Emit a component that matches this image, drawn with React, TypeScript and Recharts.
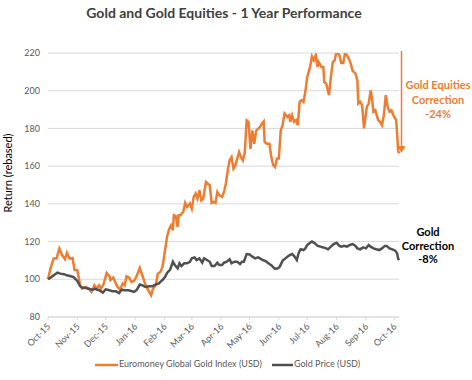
import { LineChart, Line, XAxis, YAxis, CartesianGrid } from "recharts";

// days counted from 1 Oct 2015
const equityDays = [
  0, 3, 6, 9, 12, 15, 18, 20, 23, 26, 28, 31, 34, 36, 40, 43, 46, 49, 51, 54, 56, 59, 62, 65, 66, 69, 71, 73, 76, 79,
  81, 83, 86, 88, 91, 94, 97, 100, 102, 104, 107, 109, 111, 114, 116, 119, 121, 123, 126, 128, 130, 132, 133, 135,
  137, 138, 140, 143, 145, 147, 150, 152, 154, 156, 158, 160, 162, 164, 167, 169, 171, 173, 175, 177, 179, 181, 184,
  186, 188, 190, 192, 194, 196, 198, 200, 202, 204, 206, 208, 210, 212, 214, 216, 218, 220, 222, 224, 226, 228, 229,
  231, 234, 236, 238, 240, 242, 244, 246, 248, 250, 253, 255, 256, 258, 260, 262, 264, 266, 268, 270, 272, 274, 277,
  279, 281, 283, 285, 286, 289, 291, 292, 294, 297, 299, 301, 303, 305, 308, 310, 312, 314, 316, 318, 320, 322, 325,
  327, 328, 330, 332, 334, 337, 339, 341, 342, 344, 346, 349, 351, 353, 355, 357, 359, 361, 363, 365, 368, 369, 370, 371,
];
const equityValues = [
  100, 106.5, 111, 111, 116.3, 112.7, 110.6, 114, 111, 111.3, 105, 104.8, 96.8, 95, 96, 95, 93.3, 96.8, 95, 96.8, 95,
  97.7, 103.4, 101.6, 99.5, 100.9, 98.6, 96.3, 94.5, 97.7, 96.8, 101.6, 100.9, 98.6, 99.1, 102, 106, 101.6, 98.6, 96,
  93.3, 91.5, 95, 96.8, 103, 104, 106.5, 113, 123, 126.5, 128.5, 126, 134, 133.5, 127.8, 134, 134, 135.8, 140.5, 138.4,
  140.2, 137.5, 143.7, 145.5, 142.8, 147.2, 141.9, 142.8, 151.6, 150.7, 149.9, 140.5, 141, 140.5, 146.3, 144.6, 143.7,
  146.3, 150.7, 157.8, 163.1, 164.8, 158.7, 160.4, 164, 167.5, 164.8, 163.1, 167.5, 184.2, 183.3, 169.2, 178.9, 171.9,
  178.9, 179.8, 180.7, 182.5, 183.7, 172.8, 171.9, 171.9, 165, 160.5, 159.5, 164, 164, 179, 181.7, 187.9, 186.1, 187,
  183.5, 187, 183.5, 184.4, 181.7, 194.1, 195, 194.1, 199.4, 207.3, 212.6, 218.2, 216.1, 218.8, 212.6, 215.2, 212.6,
  212.6, 204.6, 203.8, 197.6, 207.3, 215.2, 216.1, 221, 218.8, 214.7, 214.7, 220, 218.8, 217, 214.4, 210.5, 209.1,
  205.5, 193.2, 194.1, 192.3, 180, 191.4, 193.2, 200.2, 197.6, 188.8, 189.6, 184.4, 183.5, 181.7, 187, 197.6, 191.4,
  188.8, 189.6, 187, 184.4, 177.3, 168.5, 166.7,
];

const goldDays = [
  0, 3, 6, 10, 13, 17, 20, 24, 27, 31, 34, 36, 40, 43, 47, 50, 54, 58, 61, 65, 68, 72, 75, 78, 81, 85, 88, 91, 94, 97,
  100, 103, 107, 110, 114, 117, 119, 121, 124, 126, 129, 132, 134, 137, 139, 141, 144, 147, 150, 152, 155, 157, 160,
  163, 165, 168, 171, 173, 176, 179, 181, 184, 186, 189, 192, 194, 197, 200, 203, 205, 207, 210, 213, 216, 219, 222,
  224, 227, 230, 233, 236, 238, 240, 243, 245, 248, 251, 253, 256, 258, 260, 263, 265, 267, 270, 272, 274, 277, 279,
  282, 285, 288, 291, 294, 296, 299, 302, 305, 308, 310, 313, 316, 319, 322, 325, 327, 330, 333, 336, 339, 341, 344,
  347, 350, 353, 356, 358, 361, 364, 367, 369, 370, 371,
];
const goldValues = [
  100, 100.9, 102.1, 103.5, 103, 102.7, 102.1, 101.6, 101.2, 99.1, 96.3, 95.6, 95.4, 95, 94.5, 94.9, 94.2, 92.9, 94.7,
  94.2, 93.6, 93.6, 92.7, 94.5, 94.2, 94.2, 93.8, 93.3, 94.5, 97.2, 96.8, 95.9, 96.3, 96.3, 97.3, 97.7, 98.8, 99.6,
  101.4, 103.5, 105, 109.3, 107.6, 105.8, 108.5, 107, 108.5, 108.5, 109.3, 111.1, 111.6, 110.2, 111.1, 108.8, 111.1,
  110.2, 109.3, 107, 107, 108.8, 107.6, 107.6, 108.8, 109.3, 110.6, 108.5, 109.3, 109.3, 108.1, 109.3, 109.3, 113.4,
  113.2, 112, 111.1, 111.6, 111.1, 110.2, 109.7, 108.5, 107.5, 106.5, 105.5, 105.8, 106.7, 109.9, 111.1, 112, 112.9,
  113.4, 112.4, 110.2, 114.1, 115.9, 115.5, 116.4, 118.2, 119.4, 120, 119.1, 117.7, 117.3, 116.9, 116.4, 115.9, 117.3,
  118.7, 119.4, 117.7, 117.3, 117.7, 117.3, 118.2, 118.7, 117.7, 116.4, 115.9, 116.9, 116.4, 118.2, 117.3, 116.4,
  115.9, 115.5, 116.4, 117.7, 117.7, 116.4, 115.9, 115.2, 113.8, 111.1, 110.2,
];

const monthTicks = [0, 31, 61, 92, 123, 152, 183, 213, 244, 274, 305, 336, 366];
const monthLabels = [
  "Oct-15", "Nov-15", "Dec-15", "Jan-16", "Feb-16", "Mar-16", "Apr-16",
  "May-16", "Jun-16", "Jul-16", "Aug-16", "Sep-16", "Oct-16",
];
const yTicks = [80, 100, 120, 140, 160, 180, 200, 220];

const equityData = equityDays.map((d, i) => ({ day: d, value: equityValues[i] }));
const goldData = goldDays.map((d, i) => ({ day: d, value: goldValues[i] }));

const ORANGE = "#ED7D31";
const GREY = "#505050";
const FONT = "Lato, 'Open Sans', sans-serif";

function MonthTick(props: any) {
  const { x, y, payload } = props;
  const label = monthLabels[monthTicks.indexOf(payload.value)];
  const tx = x + 3;
  const ty = y + 5;
  return (
    <text
      x={tx}
      y={ty}
      transform={`rotate(-45 ${tx} ${ty})`}
      textAnchor="end"
      fontSize={9}
      fill="#595959"
      fontFamily={FONT}
    >
      {label}
    </text>
  );
}

export default function App() {
  return (
    <div style={{ position: "absolute", left: 0, top: 0, width: 472, height: 380, background: "#fff", fontFamily: FONT }}>
      <div
        style={{
          position: "absolute", left: 0, width: 448, top: 4, textAlign: "center",
          fontSize: 14, fontWeight: 700, color: "#404040",
        }}
      >
        Gold and Gold Equities - 1 Year Performance
      </div>

      <LineChart width={472} height={380} margin={{ top: 53, right: 73, bottom: 0, left: 0 }}>
        <CartesianGrid vertical={false} stroke="#d9d9d9" />
        <XAxis
          dataKey="day"
          type="number"
          domain={[0, 371]}
          ticks={monthTicks}
          tick={<MonthTick />}
          height={63}
          tickSize={3}
          stroke="#d9d9d9"
          allowDuplicatedCategory={false}
          interval={0}
        />
        <YAxis
          type="number"
          domain={[80, 220]}
          ticks={yTicks}
          allowDataOverflow
          width={48}
          axisLine={false}
          tickLine={false}
          tickSize={0}
          tickMargin={8}
          tick={{ fontSize: 9, fill: "#595959", fontFamily: FONT }}
        />
        <Line data={equityData} dataKey="value" stroke={ORANGE} strokeWidth={2.5} dot={false} isAnimationActive={false} />
        <Line data={goldData} dataKey="value" stroke={GREY} strokeWidth={2.5} dot={false} isAnimationActive={false} />
      </LineChart>

      <div
        style={{
          position: "absolute", left: 7, top: 173, transform: "translate(-50%, -50%) rotate(-90deg)",
          fontSize: 11, color: "#000", whiteSpace: "nowrap",
        }}
      >
        Return (rebased)
      </div>

      <svg style={{ position: "absolute", left: 0, top: 0 }} width={472} height={380}>
        <line x1={401.5} y1={51} x2={401.5} y2={147} stroke={ORANGE} strokeWidth={1.5} />
        <path d="M397.5 146 L405.5 146 L401.5 153 Z" fill={ORANGE} />
        <line x1={95} y1={365} x2={118} y2={365} stroke={ORANGE} strokeWidth={2.5} />
        <line x1={272} y1={365} x2={293} y2={365} stroke={GREY} strokeWidth={2.5} />
      </svg>

      <div style={{ position: "absolute", left: 119, top: 358, fontSize: 9, color: "#595959", whiteSpace: "nowrap" }}>
        Euromoney Global Gold Index (USD)
      </div>
      <div style={{ position: "absolute", left: 294, top: 358, fontSize: 9, color: "#595959", whiteSpace: "nowrap" }}>
        Gold Price (USD)
      </div>

      <div
        style={{
          position: "absolute", left: 403, width: 70, top: 78, textAlign: "center",
          fontSize: 11, fontWeight: 700, color: ORANGE, lineHeight: "14.5px",
        }}
      >
        Gold Equities
        <br />
        Correction
        <br />
        -24%
      </div>
      <div
        style={{
          position: "absolute", left: 393, width: 70, top: 225, textAlign: "center",
          fontSize: 11, fontWeight: 700, color: "#000", lineHeight: "13.5px",
        }}
      >
        Gold
        <br />
        Correction
        <br />
        -8%
      </div>
    </div>
  );
}
